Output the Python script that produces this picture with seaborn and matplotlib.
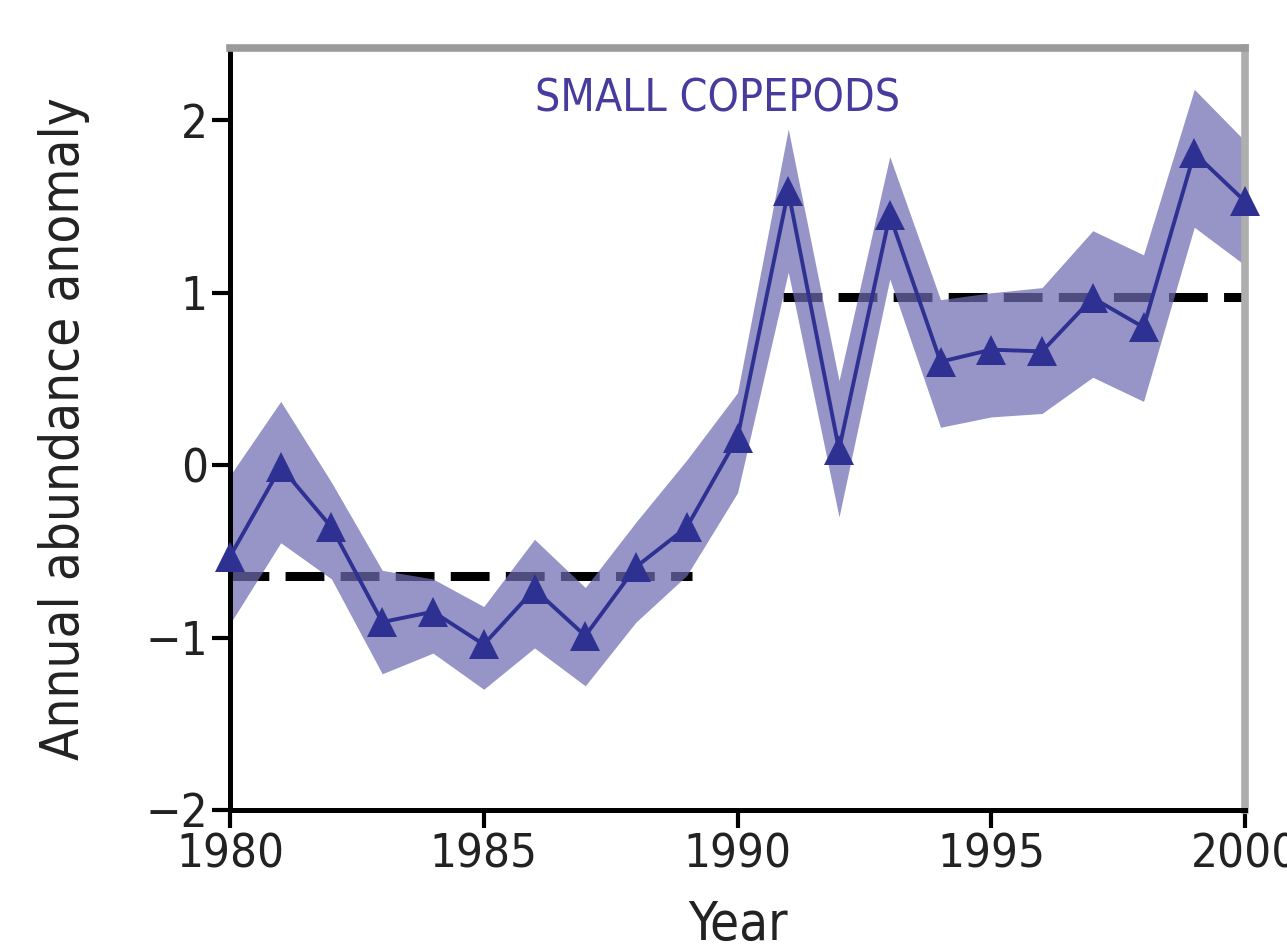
import matplotlib
matplotlib.use("Agg")
import matplotlib.pyplot as plt
import seaborn as sns
import pandas as pd
import numpy as np

years = list(range(1980, 2001))
anomaly = [-0.53, -0.01, -0.36, -0.91, -0.85, -1.04, -0.72, -0.99, -0.59, -0.36,
           0.16, 1.59, 0.09, 1.45, 0.60, 0.67, 0.66, 0.97, 0.80, 1.81, 1.53]
upper = [-0.06, 0.37, -0.10, -0.61, -0.66, -0.82, -0.43, -0.71, -0.33, 0.03,
         0.42, 1.95, 0.49, 1.79, 0.96, 1.00, 1.03, 1.36, 1.22, 2.18, 1.88]
lower = [-0.92, -0.45, -0.66, -1.21, -1.09, -1.30, -1.06, -1.28, -0.91, -0.64,
         -0.16, 1.12, -0.30, 1.08, 0.22, 0.28, 0.30, 0.51, 0.37, 1.38, 1.16]

regime_x = [[1980, 1989.1], [1990.9, 2000]]
regime_y = [-0.64, 0.975]

title = "SMALL COPEPODS"
xlabel = "Year"
ylabel = "Annual abundance anomaly"
xticks = [1980, 1985, 1990, 1995, 2000]
yticks = [-2, -1, 0, 1, 2]

sns.set_theme(style="white")
plt.rcParams['font.family'] = ['DejaVu Sans']

df = pd.DataFrame({"Year": years, "Anomaly": anomaly})

fig = plt.figure(figsize=(12.87, 9.5), dpi=100)
ax = fig.add_axes([0.1787, 0.1474, 0.7887, 0.8021])

# regime means (drawn under the band)
for xs, yv in zip(regime_x, regime_y):
    ax.plot(xs, [yv, yv], color="black", lw=6.5, dashes=(4.3, 1.8), zorder=1,
            solid_capstyle="butt", dash_capstyle="butt")

ax.fill_between(years, lower, upper, color="#6F6BB2", alpha=0.72, lw=0, zorder=2)

sns.lineplot(data=df, x="Year", y="Anomaly", ax=ax, color="#2E3192", lw=2.8,
             marker="^", markersize=21, markeredgewidth=0, zorder=3,
             clip_on=False)

ax.set_xlim(1980, 2000)
ax.set_ylim(-2, 2.42)
ax.set_xticks(xticks)
ax.set_yticks(yticks)
ax.tick_params(axis="both", direction="out", length=13, width=3, color="black",
               labelsize=34, pad=3, bottom=True, left=True)

for lab in ax.get_xticklabels() + ax.get_yticklabels():
    lab.set_fontstretch("condensed")
    lab.set_color("#222222")

ax.spines["left"].set_color("black")
ax.spines["left"].set_linewidth(3.6)
ax.spines["bottom"].set_color("black")
ax.spines["bottom"].set_linewidth(3.6)
ax.spines["top"].set_color("#9A9A9A")
ax.spines["top"].set_linewidth(5.5)
ax.spines["right"].set_color("#AEAEAE")
ax.spines["right"].set_linewidth(5.5)

ax.set_xlabel(xlabel, fontsize=38, labelpad=16, color="#222222", fontstretch="condensed")
ax.set_ylabel(ylabel, fontsize=38, labelpad=40, color="#222222", fontstretch="condensed")

ax.text(0.48, 0.933, title, transform=ax.transAxes, ha="center", va="center",
        fontsize=32, color="#473C9E", fontstretch="condensed")

fig.savefig("out.png", dpi=100)
